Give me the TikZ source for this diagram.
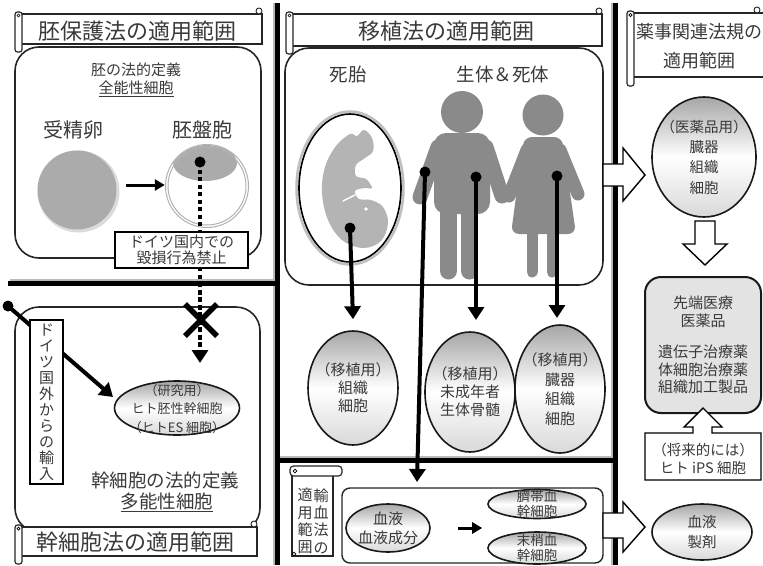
\documentclass[tikz,border=0pt]{standalone}
\usepackage{fontspec}
\setmainfont{Noto Sans CJK JP}
\usetikzlibrary{arrows.meta,shapes.geometric}
\definecolor{ink}{HTML}{3A3A3A}
\definecolor{personcol}{HTML}{8A8A8A}
\definecolor{fetuscol}{HTML}{B4B4B4}
\definecolor{cellcol}{HTML}{ABABAB}

% banner scroll: main strip plus a rolled left end and a small curl at top right
\newcommand\ScrollBanner[4]{%
  \filldraw[scrollpart] (#1,#2) rectangle (#3,#4);
  \filldraw[scrollpart,rounded corners=2.5pt] ({#1-5},{#2-2}) rectangle ({#1+2},{#4+8});
  \draw[line width=0.7pt] ({#1-1.5},{#2+1.5}) circle (1.5);
  \filldraw[scrollpart,line width=0.9pt] ({#3-3},{#2-3}) circle (3);
}

\begin{document}
\begin{tikzpicture}[x=1pt,y=-1pt,
  lbl/.style={text=ink, inner sep=0pt, align=center},
  heavy/.style={line width=4.5pt, black},
  shadeline/.style={line width=1.5pt, gray!55},
  scrollpart/.style={draw=black!85, line width=1.2pt, fill=white},
  panel/.style={draw=black!85, line width=1.6pt, rounded corners=24pt, fill=white},
  oval/.style={ellipse, draw=black!90, line width=1.6pt, inner sep=0pt,
    top color=gray!70, bottom color=gray!30, middle color=white},
  dot/.style={circle, fill=black, inner sep=0pt, minimum size=11pt},
  arr/.style={line width=4pt, -{Triangle[width=16pt,length=13pt]}},
  smallarr/.style={line width=3pt, -{Triangle[width=11pt,length=10pt]}},
  hollow/.style={draw=black, line width=1.4pt, fill=white, line join=miter},
  head/.style={lbl, font=\fontsize{22pt}{26pt}\selectfont},
]
\useasboundingbox (0,0) rectangle (763,565);

% ---- dividing rules ----
\draw[shadeline] (274,3) -- (274,565);
\draw[heavy] (277.5,3) -- (277.5,565);
\draw[shadeline] (612,3) -- (612,565);
\draw[heavy] (615.5,3) -- (615.5,565);
\draw[shadeline] (10,280) -- (275,280);
\draw[heavy] (8,283.5) -- (277,283.5);
\draw[shadeline] (280,457) -- (613,457);
\draw[heavy] (277,460.5) -- (615,460.5);

% ================= embryo protection law =================
\draw[panel] (15,47) rectangle (261,258);
\ScrollBanner{20}{14}{262}{44}
\node[head] (hEmb) at (137,31) {胚保護法の適用範囲};

\node[lbl, font=\fontsize{15pt}{18pt}\selectfont] (tEmbDef) at (136,80)
  {胚の法的定義\\\underline{全能性細胞}};
\node[lbl, font=\fontsize{20pt}{24pt}\selectfont] (tZyg) at (73,130) {受精卵};
\node[lbl, font=\fontsize{20pt}{24pt}\selectfont] (tBla) at (202,130) {胚盤胞};

% fertilised egg
\fill[gray!28] (78.5,191.5) circle (41);
\node[circle, fill=cellcol, minimum size=79pt, inner sep=0pt] (zyg) at (77,190) {};
% blastocyst
\node[circle, fill=white, minimum size=84pt, inner sep=0pt] (bla) at (207,186) {};
\begin{scope}
  \clip (207,186) circle (41);
  \fill[cellcol] (205,163) ellipse [x radius=32, y radius=18];
\end{scope}
\draw[gray!60, line width=1pt] (207,186) circle (41.5);
\draw[gray!60, line width=1pt] (207,186) circle (39);
\draw[smallarr] (zyg.east) ++(9,-5) coordinate (zA) (zA) -- (bla.west |- zA);
\node[dot] (dB) at (200,162) {};

% prohibition path into the stem cell field
\coordinate (xTip) at (200,363);
\draw[line width=4pt, dash pattern=on 4pt off 3.5pt] (dB.center) -- ([yshift=12pt]xTip);

% ================= stem cell law =================
\draw[panel, fill=none] (15,307) rectangle (260,532);
\draw[line width=4pt, dash pattern=on 4pt off 3.5pt] (200,283) -- ([yshift=12pt]xTip);
\draw[arr] ([yshift=13pt]xTip) -- (xTip);

\node[draw=black, line width=1.4pt, fill=white, minimum width=133pt, minimum height=36pt,
  inner sep=0pt] (ban) at (181.5,250) {};
\node[lbl, font=\fontsize{15pt}{16.5pt}\selectfont] at (ban) {ドイツ国内での\\毀損行為禁止};

% cross over the blocked path
\coordinate (xC) at (201,320);
\draw[line width=5.5pt] ([shift={(-16,-16)}]xC) -- ([shift={(16,16)}]xC);
\draw[line width=5.5pt] ([shift={(16,-16)}]xC) -- ([shift={(-16,16)}]xC);

\node[oval, minimum width=125pt, minimum height=54pt] (eES) at (177,408) {};
\node[lbl, font=\fontsize{13pt}{18.5pt}\selectfont] at ([yshift=-1pt]eES.center) {（研究用）\\ヒト胚性幹細胞\\（ヒトES 細胞）};

% import from abroad
\node[dot] (dImp) at (8,306) {};
\coordinate (impTip) at (113,397);
\draw[arr] (dImp.center) -- (impTip);
\node[draw=black, line width=1.4pt, fill=white, minimum width=33pt, minimum height=164pt,
  inner sep=0pt] (vImp) at (46.5,402) {};
\node[lbl, font=\fontsize{15pt}{16pt}\selectfont] at (vImp) {ド\\イ\\ツ\\国\\外\\か\\ら\\の\\輸\\入};

\node[lbl, font=\fontsize{18.5pt}{22pt}\selectfont] (tStemDef) at (165,480) {幹細胞の法的定義};
\node[lbl, font=\fontsize{18.5pt}{22pt}\selectfont] (tPluri) at (167,502) {\underline{多能性細胞}};

\ScrollBanner{20}{527}{257}{556}
\node[head] (hStem) at (135,542) {幹細胞法の適用範囲};

% ================= transplantation law =================
\draw[panel] (285,48) rectangle (603,285);
\ScrollBanner{291}{14}{602}{46}
\node[head] (hTx) at (446,31) {移植法の適用範囲};

\node[lbl, font=\fontsize{18.5pt}{22pt}\selectfont] (tDead) at (348,74) {死胎};
\node[lbl, font=\fontsize{18.5pt}{22pt}\selectfont] (tLive) at (503,74) {生体＆死体};

% dead fetus
\draw[gray!50, line width=2.5pt] (350,188) ellipse [x radius=53.5, y radius=76.5];
\draw[black, line width=1.6pt, fill=white] (350,188) ellipse [x radius=51, y radius=74];
\fill[fetuscol] plot[smooth cycle, tension=0.6] coordinates {
  (350,134) (336,146) (325,167) (322,193) (328,220) (342,240) (363,248) (381,241)
  (388,223) (383,207) (371,200) (359,199) (355,191) (364,188) (372,188) (366,179)
  (356,176) (356,165) (365,158) (373,151) (372,138) (364,130) (357,136)};
\draw[white, line width=1.5pt, line cap=round] (343,201) -- (355,195);
\draw[gray!70, fill=white, line width=0.8pt] (366,209) circle (2.3);

% two people
\begin{scope}[personcol]
  \fill (462,112) circle (21);
  \fill[rounded corners=12pt] (434,133) rectangle (490,214);
  \draw[line width=15pt, line cap=round] (438,147) -- (420,197);
  \draw[line width=15pt, line cap=round] (486,147) -- (502,196);
  \draw[line width=17pt, line cap=round] (448.5,205) -- (448.5,271);
  \draw[line width=17pt, line cap=round] (469.5,205) -- (469.5,271);
  \fill (543,115) circle (20.5);
  \fill[rounded corners=8pt] (524,137) -- (562,137) -- (576,234) -- (511,234) -- cycle;
  \draw[line width=13pt, line cap=round] (527,150) -- (509,196);
  \draw[line width=13pt, line cap=round] (560,150) -- (578,194);
  \draw[line width=11pt, line cap=round] (532,228) -- (532,272);
  \draw[line width=11pt, line cap=round] (552,228) -- (552,272);
\end{scope}

\node[oval, minimum width=90pt, minimum height=114pt] (eT1) at (353,388) {};
\node[lbl, font=\fontsize{15pt}{18pt}\selectfont] at (eT1) {（移植用）\\組織\\細胞};
\node[oval, minimum width=90pt, minimum height=120pt] (eT2) at (470,392) {};
\node[lbl, font=\fontsize{15pt}{18pt}\selectfont] at (eT2) {（移植用）\\未成年者\\生体骨髄};
\node[oval, minimum width=90pt, minimum height=128pt] (eT3) at (560,389) {};
\node[lbl, font=\fontsize{15pt}{19.5pt}\selectfont] at (eT3) {（移植用）\\臓器\\組織\\細胞};

\node[dot] (dF) at (350,228) {};
\node[dot] (dM1) at (425,172) {};
\node[dot] (dM2) at (476,177) {};
\node[dot] (dW) at (557,176) {};
\coordinate (tipBl) at (417,482);
\coordinate (tip2) at (476,320);
\coordinate (tip3) at (557,318);
\draw[arr] (dF.center) -- ([yshift=11pt]eT1.north);
\draw[arr] (dM2.center) -- (tip2);
\draw[arr] (dW.center) -- (tip3);

% ================= blood transfusion law =================
\filldraw[scrollpart] (292,470) rectangle (333,556);
\filldraw[scrollpart, rounded corners=3.5pt] (290,466) rectangle (342,476);
\draw[line width=0.7pt] (295,471) circle (1.8);
\draw[line width=0.7pt] (294,554) circle (1.8);
\node[lbl, font=\fontsize{15pt}{17.3pt}\selectfont] (tBlA) at (321,521) {輸\\血\\法\\の};
\node[lbl, font=\fontsize{15pt}{17.3pt}\selectfont] (tBlB) at (305,521) {適\\用\\範\\囲};

\node[draw=black!85, line width=1.4pt, rounded corners=8pt, fill=white, minimum width=261pt,
  minimum height=75pt, inner sep=0pt] (bBl) at (472.5,525.5) {};
\draw[arr] (dM1.center) -- (tipBl);

\node[oval, minimum width=84pt, minimum height=48pt] (eBl) at (388,528) {};
\node[lbl, font=\fontsize{15pt}{19pt}\selectfont] at (eBl) {血液\\血液成分};
\node[oval, minimum width=98pt, minimum height=29pt] (eCord) at (537,504) {};
\node[lbl, font=\fontsize{13.5pt}{14.5pt}\selectfont] at (eCord) {臍帯血\\幹細胞};
\node[oval, minimum width=98pt, minimum height=32pt] (ePer) at (537,548) {};
\node[lbl, font=\fontsize{13.5pt}{15pt}\selectfont] at (ePer) {末梢血\\幹細胞};
\draw[smallarr] ([xshift=27pt]eBl.east) -- ([xshift=-5pt]eBl.east -| ePer.west);

% ================= pharmaceutical regulations =================
\filldraw[scrollpart] (632,13) rectangle (770,77);
\filldraw[scrollpart, rounded corners=2.5pt] (627,11) rectangle (634,86);
\draw[line width=0.7pt] (630.5,15) circle (1.6);
\filldraw[scrollpart, line width=0.9pt] (757,10) circle (3);
\node[lbl, font=\fontsize{18pt}{29pt}\selectfont] (hPh) at (699,46) {薬事関連法規の\\適用範囲};

\filldraw[hollow] (603,164) -- (623,164) -- (623,148) -- (645,175) -- (623,201) -- (623,186) -- (603,186) -- cycle;
\filldraw[hollow] (603,513) -- (623,513) -- (623,502) -- (645,527) -- (623,552) -- (623,538) -- (603,538) -- cycle;

\node[oval, minimum width=104pt, minimum height=120pt] (ePh) at (704,157) {};
\node[lbl, font=\fontsize{14.5pt}{20.3pt}\selectfont] at (ePh) {（医薬品用）\\臓器\\組織\\細胞};

\filldraw[hollow] (695,221) -- (715,221) -- (715,244) -- (727,244) -- (705,265) -- (683,244) -- (695,244) -- cycle;

\node[draw=black!90, line width=2pt, rounded corners=16pt, fill=gray!22, minimum width=116pt,
  minimum height=136pt, inner sep=0pt] (bAdv) at (703,345) {};
\node[lbl, font=\fontsize{15pt}{17.5pt}\selectfont] at (bAdv) {先端医療\\医薬品\\[14pt]遺伝子治療薬\\体細胞治療薬\\組織加工製品};

\filldraw[hollow] (645,433) -- (693,433) -- (693,427) -- (684,427) -- (703,408) -- (722,427)
  -- (712,427) -- (712,433) -- (761,433) -- (761,480) -- (645,480) -- cycle;
\coordinate (iPS) at (703,459);
\node[lbl, font=\fontsize{14.5pt}{18pt}\selectfont] (tIPS) at (iPS) {（将来的には）\\ヒト iPS 細胞};

\node[oval, minimum width=100pt, minimum height=56pt] (eBP) at (702,532) {};
\node[lbl, font=\fontsize{14.5pt}{20pt}\selectfont] at (eBP) {血液\\製剤};
\end{tikzpicture}
\end{document}
